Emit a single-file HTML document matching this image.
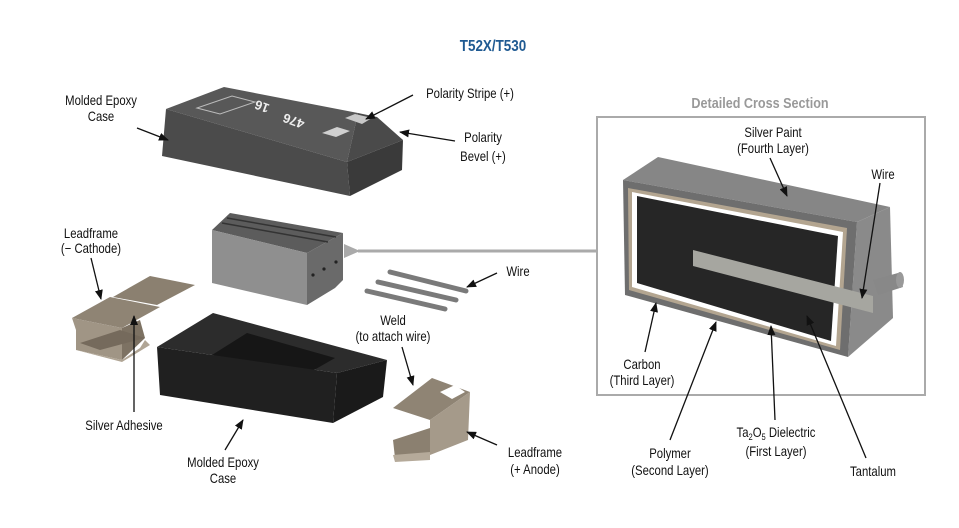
<!DOCTYPE html>
<html><head><meta charset="utf-8"><style>
html,body{margin:0;padding:0;background:#fff;}
svg{display:block;}
text{font-family:"Liberation Sans",sans-serif;font-size:13.5px;fill:#111;}
.c text{transform-box:fill-box;transform-origin:center;transform:scaleX(0.84);}
</style></head><body>
<svg width="959" height="528" viewBox="0 0 959 528" xmlns="http://www.w3.org/2000/svg">
<defs>
<marker id="a" markerWidth="10" markerHeight="8" refX="9" refY="4" orient="auto" markerUnits="userSpaceOnUse"><path d="M0,0 L10,4 L0,8 z" fill="#111"/></marker>
<marker id="g" markerWidth="16" markerHeight="14" refX="2" refY="7" orient="auto" markerUnits="userSpaceOnUse"><path d="M16,0 L0,7 L16,14 z" fill="#aaa"/></marker>
</defs>
<g class="c"><text x="493" y="51" text-anchor="middle" style="font-size:16px;fill:#1f5a92;font-weight:bold">T52X/T530</text></g>

<!-- top case -->
<polygon points="224,87 358,113 347,162 166,109" fill="#585858"/>
<polygon points="358,113 377,117 403,140 347,162" fill="#4a4a4a"/>
<polygon points="166,109 347,162 350,196 162,156" fill="#4b4b4b"/>
<polygon points="347,162 403,140 402,170 350,196" fill="#3a3a3a"/>
<polygon points="197,108 232,96 255,102 220,114" fill="none" stroke="#bbb" stroke-width="1"/>
<polygon points="322,133 337,127 350,131 336,137" fill="#d0d0d0"/>
<polygon points="345,118 355,114 372,118 362,124" fill="#c8c8c8"/>
<text x="255" y="112" transform="rotate(200 262 107)" style="fill:#eee;font-size:13px;font-weight:bold">16</text>
<text x="280" y="128" transform="rotate(200 292 122)" style="fill:#eee;font-size:13px;font-weight:bold">476</text>

<!-- middle block -->
<polygon points="212,230 230,213 343,233 307,253" fill="#5c5c5c"/>
<polygon points="212,230 307,253 307,305 212,283" fill="#8f8f8f"/>
<polygon points="307,253 343,233 343,280 335,288 307,305" fill="#6a6a6a"/>
<line x1="222" y1="223" x2="328" y2="242" stroke="#333" stroke-width="1.5"/>
<line x1="227" y1="218" x2="336" y2="237" stroke="#333" stroke-width="1.5"/>
<circle cx="313" cy="275" r="1.6" fill="#222"/><circle cx="324" cy="269" r="1.6" fill="#222"/><circle cx="336" cy="262" r="1.6" fill="#222"/>

<!-- gray arrow -->
<line x1="598" y1="251" x2="358" y2="251" stroke="#aaa" stroke-width="3" marker-end="url(#g)"/>

<!-- wires -->
<line x1="390" y1="272" x2="466" y2="291" stroke="#7a7a7a" stroke-width="5" stroke-linecap="round"/>
<line x1="378" y1="282" x2="456" y2="300" stroke="#7a7a7a" stroke-width="5" stroke-linecap="round"/>
<line x1="367" y1="291" x2="445" y2="309" stroke="#7a7a7a" stroke-width="5" stroke-linecap="round"/>

<!-- bottom epoxy case -->
<polygon points="157,347 213,313 387,360 337,373" fill="#2c2c2c"/>
<polygon points="212,355 247,333 335,358 300,378" fill="#161616"/>
<polygon points="157,347 337,373 333,423 160,395" fill="#202020"/>
<polygon points="337,373 387,360 383,397 333,423" fill="#1a1a1a"/>

<!-- left leadframe -->
<polygon points="113,297 150,276 195,285 157,305" fill="#8b8070"/>
<polygon points="72,318 110,297 160,307 122,328" fill="#8f8474"/>
<polygon points="72,318 122,328 122,360 76,350 76,330" fill="#a09585"/>
<polygon points="122,328 140,320 145,338 122,360" fill="#7d7263"/>
<polygon points="80,343 120,330 145,338 100,350" fill="#756a5c"/>
<polygon points="76,350 122,360 140,348 145,340 150,345 122,362" fill="#b0a595"/>

<!-- right leadframe -->
<polygon points="393,408 432,378 470,392 430,420" fill="#8f8474"/>
<polygon points="440,392 455,385 465,392 452,399" fill="#fff"/>
<polygon points="430,420 470,392 468,440 430,455" fill="#a59a8a"/>
<polygon points="393,440 430,428 430,455 395,458" fill="#8b8070"/>
<polygon points="393,455 430,452 430,460 395,462" fill="#b5aa9a"/>

<!-- cross section box -->
<rect x="597" y="117" width="328" height="278" fill="none" stroke="#aaa" stroke-width="2"/>
<g class="c"><text x="760" y="108" text-anchor="middle" style="font-size:15px;fill:#999;font-weight:bold">Detailed Cross Section</text></g>
<polygon points="623,180 658,157 890,207 857,222" fill="#868686"/>
<polygon points="857,222 890,207 893,318 848,357" fill="#8a8a8a"/>
<polygon points="623,180 857,222 848,357 625,295" fill="#6e6e6e"/>
<polygon points="628,188 847,228 840,350 629,290" fill="#b3a590"/>
<polygon points="632,192 843,232 836,346 632,287" fill="#fff"/>
<polygon points="637,196 838,236 831,341 637,283" fill="#262626"/>
<polygon points="693,250 873,296 873,313 693,266" fill="#a6a6a0"/>
<polygon points="873,280 898,273 903,287 878,295" fill="#888"/>
<ellipse cx="900" cy="280" rx="4" ry="8" fill="#999"/>

<!-- labels -->
<g stroke="#111" stroke-width="1.3" fill="none">
<line x1="137" y1="128" x2="168" y2="140" marker-end="url(#a)"/>
<line x1="413" y1="95" x2="366" y2="119" marker-end="url(#a)"/>
<line x1="455" y1="141" x2="400" y2="132" marker-end="url(#a)"/>
<line x1="91" y1="258" x2="101" y2="299" marker-end="url(#a)"/>
<line x1="134" y1="412" x2="134" y2="316" marker-end="url(#a)"/>
<line x1="225" y1="450" x2="243" y2="420" marker-end="url(#a)"/>
<line x1="497" y1="273" x2="467" y2="287" marker-end="url(#a)"/>
<line x1="402" y1="347" x2="413" y2="385" marker-end="url(#a)"/>
<line x1="497" y1="445" x2="467" y2="432" marker-end="url(#a)"/>
<line x1="770" y1="158" x2="787" y2="196" marker-end="url(#a)"/>
<line x1="880" y1="183" x2="862" y2="298" marker-end="url(#a)"/>
<line x1="645" y1="352" x2="656" y2="303" marker-end="url(#a)"/>
<line x1="670" y1="440" x2="716" y2="322" marker-end="url(#a)"/>
<line x1="775" y1="420" x2="771" y2="326" marker-end="url(#a)"/>
<line x1="866" y1="458" x2="807" y2="316" marker-end="url(#a)"/>
</g>
<g text-anchor="middle" class="c">
<text x="101" y="105">Molded Epoxy</text><text x="101" y="121">Case</text>
<text x="470" y="98">Polarity Stripe (+)</text>
<text x="483" y="142">Polarity</text><text x="483" y="161">Bevel (+)</text>
<text x="91" y="238">Leadframe</text><text x="91" y="253">(− Cathode)</text>
<text x="124" y="430">Silver Adhesive</text>
<text x="223" y="467">Molded Epoxy</text><text x="223" y="483">Case</text>
<text x="518" y="276">Wire</text>
<text x="393" y="325">Weld</text><text x="393" y="341">(to attach wire)</text>
<text x="535" y="457">Leadframe</text><text x="535" y="474">(+ Anode)</text>
<text x="773" y="137">Silver Paint</text><text x="773" y="153">(Fourth Layer)</text>
<text x="883" y="179">Wire</text>
<text x="642" y="369">Carbon</text><text x="642" y="385">(Third Layer)</text>
<text x="670" y="458">Polymer</text><text x="670" y="475">(Second Layer)</text>
<text x="776" y="437">Ta<tspan style="font-size:9px" dy="3">2</tspan><tspan dy="-3">O</tspan><tspan style="font-size:9px" dy="3">5</tspan><tspan dy="-3"> Dielectric</tspan></text>
<text x="776" y="456">(First Layer)</text>
<text x="873" y="476">Tantalum</text>
</g>
</svg>
</body></html>
